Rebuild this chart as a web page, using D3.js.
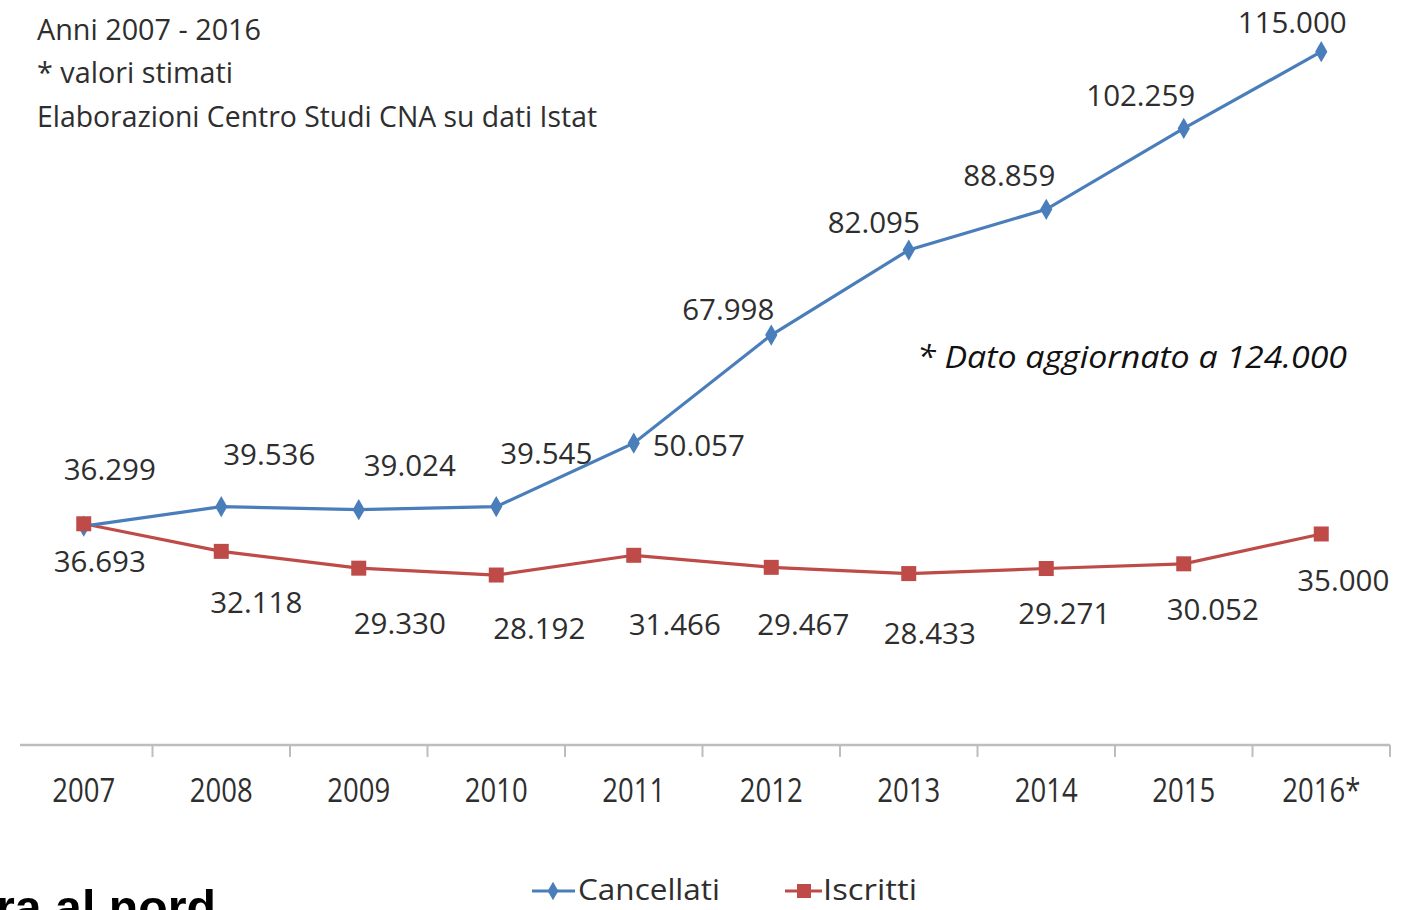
<!DOCTYPE html>
<html>
<head>
<meta charset="utf-8">
<script src="https://cdn.jsdelivr.net/npm/d3@7"></script>
<style>
  html, body { margin: 0; padding: 0; background: #ffffff; }
  svg { display: block; }
  text { font-family: "Open Sans", "Noto Sans", sans-serif; fill: #2e2e2e; font-weight: 500; }
</style>
</head>
<body>
<svg id="chart" width="1417" height="910"></svg>
<script>
// ---- data ----
const years = ["2007", "2008", "2009", "2010", "2011", "2012", "2013", "2014", "2015", "2016*"];
const cancellati = [36299, 39536, 39024, 39545, 50057, 67998, 82095, 88859, 102259, 115000];
const iscritti = [36693, 32118, 29330, 28192, 31466, 29467, 28433, 29271, 30052, 35000];
const seriesNames = ["Cancellati", "Iscritti"];
const titleLines = ["Anni 2007 - 2016", "* valori stimati", "Elaborazioni Centro Studi CNA su dati Istat"];
const noteText = "* Dato aggiornato a 124.000";
const headingText = "ra al nord";

// ---- label layout (pixel offsets from points, layout only) ----
const blueLabelOffsets = [[26, -57], [48, -53], [51, -45], [50, -54], [65, 2], [-43, -26], [-35, -28], [-37, -34], [-43, -33], [-29, -30]];
const redLabelOffsets = [[16, 37], [35, 51], [41, 55], [43, 53], [41, 69], [32, 57], [21, 59], [18, 44], [29, 45], [22, 46]];

const blue = "#4a7ebb";
const red = "#be4b48";
const svg = d3.select("#chart");

const x = d3.scaleBand().domain(years).range([15, 1390]).padding(0);
const y = d3.scaleLinear().domain([0, 120000]).range([745, 745 - 120000 * 0.006029]);
const cx = d => x(d) + x.bandwidth() / 2;

const fmt = v => d3.format(",")(v).replace(/,/g, ".");

// title block
const titleY = [40, 83, 127];
const titleW = [224, 196, 560];
titleLines.forEach((t, i) => {
  svg.append("text").attr("x", 37).attr("y", titleY[i])
    .attr("font-size", 29).attr("textLength", titleW[i]).attr("lengthAdjust", "spacingAndGlyphs")
    .text(t);
});

// x axis
const axis = d3.axisBottom(x).tickSize(0).tickFormat("");
const gAxis = svg.append("g").attr("transform", "translate(0,745)").call(axis);
gAxis.select(".domain").remove();
gAxis.append("line").attr("x1", 20).attr("x2", 1390).attr("y1", 0).attr("y2", 0)
  .attr("stroke", "#bdbdbd").attr("stroke-width", 2.5);
const boundaries = years.map(d => x(d) + x.bandwidth());
gAxis.selectAll("line.tk").data(boundaries).enter().append("line").attr("class", "tk")
  .attr("x1", d => d).attr("x2", d => d).attr("y1", 0).attr("y2", 12)
  .attr("stroke", "#bdbdbd").attr("stroke-width", 2);

// year labels (narrow)
years.forEach(yr => {
  svg.append("g").attr("transform", `translate(${cx(yr)},802) scale(0.86,1)`)
    .append("text").attr("text-anchor", "middle").attr("font-size", 32).text(yr);
});

// lines
const line = d3.line().x((d, i) => cx(years[i])).y(d => y(d));
svg.append("path").datum(iscritti).attr("d", line).attr("fill", "none")
  .attr("stroke", red).attr("stroke-width", 3.2);
svg.append("path").datum(cancellati).attr("d", line).attr("fill", "none")
  .attr("stroke", blue).attr("stroke-width", 3.2);

// markers
const diamond = d3.symbol().type(d3.symbolDiamond).size(130);
svg.selectAll("path.bm").data(cancellati).enter().append("path").attr("class", "bm")
  .attr("d", diamond).attr("fill", blue)
  .attr("transform", (d, i) => `translate(${cx(years[i])},${y(d)})`);
svg.selectAll("rect.rm").data(iscritti).enter().append("rect").attr("class", "rm")
  .attr("x", (d, i) => cx(years[i]) - 7.5).attr("y", d => y(d) - 7.5)
  .attr("width", 15).attr("height", 15).attr("fill", red);

// data labels
cancellati.forEach((v, i) => {
  const o = blueLabelOffsets[i];
  svg.append("text").attr("text-anchor", "middle").attr("font-size", 29.5)
    .attr("x", cx(years[i]) + o[0]).attr("y", y(v) + o[1] + 11).text(fmt(v));
});
iscritti.forEach((v, i) => {
  const o = redLabelOffsets[i];
  svg.append("text").attr("text-anchor", "middle").attr("font-size", 29.5)
    .attr("x", cx(years[i]) + o[0]).attr("y", y(v) + o[1] + 11).text(fmt(v));
});

// note
svg.append("text").attr("x", 917).attr("y", 368).attr("font-size", 31).attr("font-style", "italic")
  .style("fill", "#111").attr("textLength", 430).attr("lengthAdjust", "spacingAndGlyphs").text(noteText);

// legend
const lg = svg.append("g");
lg.append("line").attr("x1", 532).attr("x2", 575).attr("y1", 891).attr("y2", 891).attr("stroke", blue).attr("stroke-width", 3.2);
lg.append("path").attr("d", d3.symbol().type(d3.symbolDiamond).size(100)).attr("fill", blue).attr("transform", "translate(553,891)");
lg.append("text").attr("x", 578).attr("y", 900).attr("font-size", 29).attr("textLength", 142).attr("lengthAdjust", "spacingAndGlyphs").text(seriesNames[0]);
lg.append("line").attr("x1", 785).attr("x2", 822).attr("y1", 891).attr("y2", 891).attr("stroke", red).attr("stroke-width", 3.2);
lg.append("rect").attr("x", 797).attr("y", 884).attr("width", 14).attr("height", 14).attr("fill", red);
lg.append("text").attr("x", 823).attr("y", 900).attr("font-size", 29).attr("textLength", 94).attr("lengthAdjust", "spacingAndGlyphs").text(seriesNames[1]);

// cut-off heading at bottom-left (cut in the reference as well)
svg.append("text").attr("x", -4).attr("y", 924).attr("font-size", 48).style("font-weight", "bold")
  .style("font-family", "'Liberation Sans', Arial, sans-serif").style("fill", "#000")
  .attr("textLength", 220).attr("lengthAdjust", "spacingAndGlyphs").text(headingText);
</script>
</body>
</html>
